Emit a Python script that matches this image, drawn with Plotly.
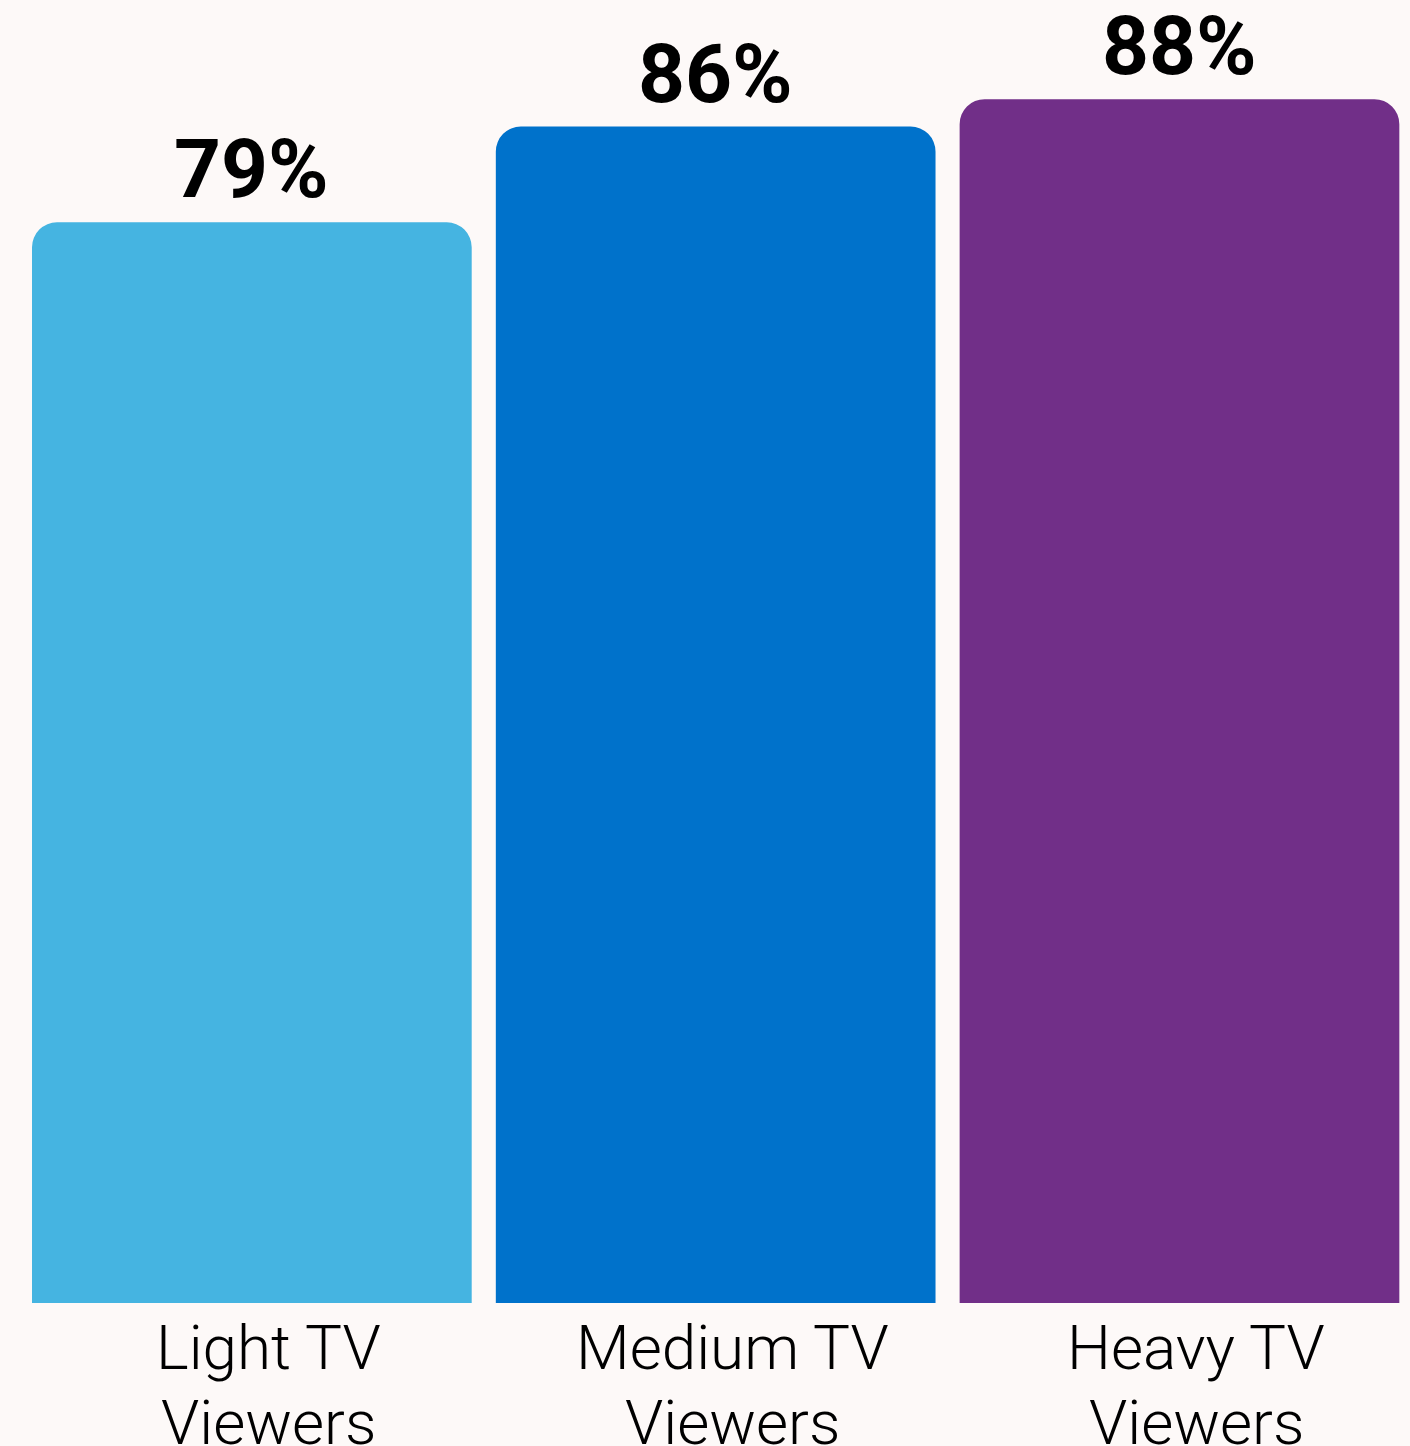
import plotly.graph_objects as go

categories = ["Light TV Viewers", "Medium TV Viewers", "Heavy TV Viewers"]
label_line1 = ["Light TV", "Medium TV", "Heavy TV"]
label_line2 = ["Viewers", "Viewers", "Viewers"]
values = [79, 86, 88]
colors = ["#45B4E1", "#0072CB", "#712F88"]

BG = "#FDF9F8"

fig = go.Figure(
    go.Bar(
        x=categories,
        y=values,
        marker=dict(color=colors, line=dict(width=0), cornerradius=25),
        hoverinfo="skip",
    )
)

annotations = []
for cat, v in zip(categories, values):
    annotations.append(dict(
        x=cat, y=v, xref="x", yref="y", text=f"{v}%", showarrow=False,
        yanchor="bottom", yshift=3,
        font=dict(family="Roboto", size=82, color="#000000", weight="bold"),
    ))
for cat, l1, l2 in zip(categories, label_line1, label_line2):
    annotations.append(dict(
        x=cat, y=0, xref="x", yref="paper", text=l1, showarrow=False,
        yanchor="top", yshift=-6, xshift=17,
        font=dict(family="Roboto", size=62, color="#000000", weight=300),
    ))
    annotations.append(dict(
        x=cat, y=0, xref="x", yref="paper", text=l2, showarrow=False,
        yanchor="top", yshift=-81, xshift=17,
        font=dict(family="Roboto", size=62, color="#000000", weight=300),
    ))

fig.update_layout(
    width=1410, height=1446,
    margin=dict(l=0, r=0, t=0, b=143),
    paper_bgcolor=BG, plot_bgcolor=BG,
    bargap=0.052,
    showlegend=False,
    xaxis=dict(range=[-0.543, 2.497], showticklabels=False, showgrid=False,
               zeroline=False, showline=False, fixedrange=True),
    yaxis=dict(range=[0, 95.25], showticklabels=False, showgrid=False,
               zeroline=False, showline=False, fixedrange=True),
    annotations=annotations,
)

fig.write_html("out.html")
